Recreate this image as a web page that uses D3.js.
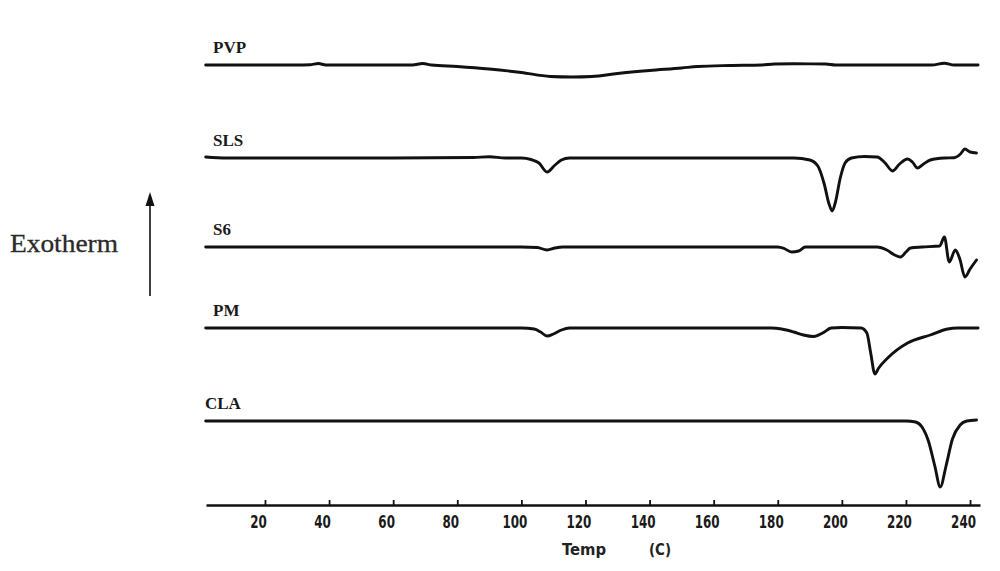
<!DOCTYPE html>
<html><head><meta charset="utf-8">
<script src="https://cdn.jsdelivr.net/npm/d3@7"></script>
<style>body{margin:0;background:#fff}svg{display:block}</style>
</head><body><svg id="c" width="1000" height="571"></svg>
<script>
// ---- data ----
const seriesNames = ["PVP", "SLS", "S6", "PM", "CLA"];
const seriesOffsets = [440, 347, 258, 177, 84]; // vertical stacking offsets (heat-flow units)

const pvpTemp = [1.5, 30, 34, 36.7, 39, 66, 69.2, 72, 80, 90, 100, 109, 116, 122, 130, 140, 150, 155, 165, 175, 179, 185, 195, 198, 228, 232, 235, 242.5];
const pvpFlow = [0, 0, 0.3, 1.5, 0, 0, 1.5, 0, -1.5, -4, -7.5, -11.5, -12, -11.5, -8.5, -5.5, -3, -1.5, -0.5, 0, 1, 1.2, 1, 0, 0, 1.8, 0, 0];

const slsTemp = [1.5, 8, 60, 85, 90, 95, 100, 103, 105.5, 108, 110.5, 112.5, 115, 185, 190, 192.5, 194.5, 196, 197, 198, 199.5, 201, 203, 207, 211, 213.5, 215.8, 218, 220.5, 222, 223.6, 225.5, 227.6, 232, 235, 237, 238.4, 240, 242];
const slsFlow = [1, 0, 0, 0.5, 1.2, 0, 0, -1.5, -5, -14, -7, -2, 0, 0, -2, -8, -26, -46, -53, -44, -20, -5, 0, 1.5, 1, -5, -13, -6, -1, -4, -10, -6, -2, 0, 0.3, 4, 9, 6, 5];

const s6Temp = [1.5, 100, 105, 108, 110.5, 113, 180, 182, 184.3, 186.5, 188.6, 200, 211, 214, 216.5, 218.3, 220, 221.4, 225, 230.5, 232, 233.5, 235.4, 236.8, 238.4, 240, 242];
const s6Flow = [0, 0, -0.5, -3, -1, 0, 0, -1.5, -5, -4, 0, 0, 0, -3, -8, -10, -5, -1, 0, 1, 10, -15, -3, -12, -30, -22, -13];

const pmTemp = [1.5, 100, 104, 106, 108, 110, 112.5, 115, 178, 181.2, 185, 188, 191.2, 194, 196.7, 200, 206, 207.8, 209, 210.3, 211.5, 214.3, 220.5, 227.6, 233, 236, 242.5];
const pmFlow = [0, 0, -1, -4, -8, -6, -2, 0, 0, -1, -4, -7, -8.5, -5, 0, 0.5, 0, -5, -25, -46, -40, -30, -15, -7, -1, 0, 0];

const claTemp = [1.5, 220, 223, 225, 227, 229, 230.7, 232.5, 234.5, 236.9, 239, 242];
const claFlow = [0, 0, -1, -6, -20, -45, -66, -45, -18, -4, 0, 1];

const tickValues = [20, 40, 60, 80, 100, 120, 140, 160, 180, 200, 220, 240];
const xTitleParts = ["Temp", "(C)"];
const yTitle = "Exotherm";

const seriesData = [
  [pvpTemp, pvpFlow], [slsTemp, slsFlow], [s6Temp, s6Flow], [pmTemp, pmFlow], [claTemp, claFlow]
];

// ---- drawing ----
const svg = d3.select("#c");
svg.append("rect").attr("width", 1000).attr("height", 571).attr("fill", "#fff");

const x = d3.scaleLinear().domain([1.6, 243.1]).range([206, 980]);
const y = d3.scaleLinear().domain([0, 440]).range([505, 65]);

const line = d3.line().x(d => x(d[0])).y(d => y(d[1])).curve(d3.curveMonotoneX);

seriesData.forEach(([t, f], i) => {
  const pts = t.map((tt, j) => [tt, f[j] + seriesOffsets[i]]);
  svg.append("path")
    .attr("d", line(pts))
    .attr("fill", "none")
    .attr("stroke", "#111")
    .attr("stroke-width", 2.9)
    .attr("stroke-linejoin", "round")
    .attr("stroke-linecap", "round");
  svg.append("text")
    .attr("x", i === 4 ? 205 : 213)
    .attr("y", y(seriesOffsets[i]) - 12)
    .attr("font-family", "'Liberation Serif', 'Times New Roman', serif")
    .attr("font-weight", "bold")
    .attr("font-size", 17)
    .attr("fill", "#1a1a1a")
    .text(seriesNames[i]);
});

// x axis
const axis = d3.axisBottom(x).tickValues(tickValues).tickSizeInner(-5).tickSizeOuter(0).tickPadding(10);
const g = svg.append("g").attr("transform", `translate(0,${y(0)})`).call(axis);
g.select(".domain").attr("stroke", "#111").attr("stroke-width", 2.6);
g.selectAll(".tick line").attr("stroke", "#111").attr("stroke-width", 1.8);
g.selectAll(".tick text")
  .attr("dx", -7)
  .attr("fill", "#1a1a1a")
  .attr("font-family", "'DejaVu Sans Condensed', 'DejaVu Sans', sans-serif")
  .attr("font-weight", "bold")
  .attr("font-size", 18)
  .attr("textLength", d => String(d).length * 8.3)
  .attr("lengthAdjust", "spacingAndGlyphs");

const axisFont = "'DejaVu Sans Condensed', 'DejaVu Sans', sans-serif";
svg.append("text").attr("x", 584).attr("y", 555).attr("text-anchor", "middle")
  .attr("font-family", axisFont).attr("font-weight", "bold")
  .attr("font-size", 16).attr("fill", "#222")
  .attr("textLength", 44).attr("lengthAdjust", "spacingAndGlyphs")
  .text(xTitleParts[0]);
svg.append("text").attr("x", 660).attr("y", 555).attr("text-anchor", "middle")
  .attr("font-family", axisFont).attr("font-weight", "bold")
  .attr("font-size", 16).attr("fill", "#222")
  .attr("textLength", 22).attr("lengthAdjust", "spacingAndGlyphs")
  .text(xTitleParts[1]);

// y label and arrow
svg.append("text").attr("x", 10).attr("y", 252)
  .attr("font-family", "'Liberation Serif', 'Times New Roman', serif")
  .attr("font-size", 25).attr("fill", "#2a2a2a")
  .attr("stroke", "#2a2a2a").attr("stroke-width", 0.3)
  .attr("textLength", 108).attr("lengthAdjust", "spacingAndGlyphs")
  .text(yTitle);
svg.append("line").attr("x1", 150).attr("x2", 150).attr("y1", 296).attr("y2", 200)
  .attr("stroke", "#111").attr("stroke-width", 1.6);
svg.append("path").attr("d", "M150,192 L145.5,206 L154.5,206 Z").attr("fill", "#111");
</script>
</body></html>
